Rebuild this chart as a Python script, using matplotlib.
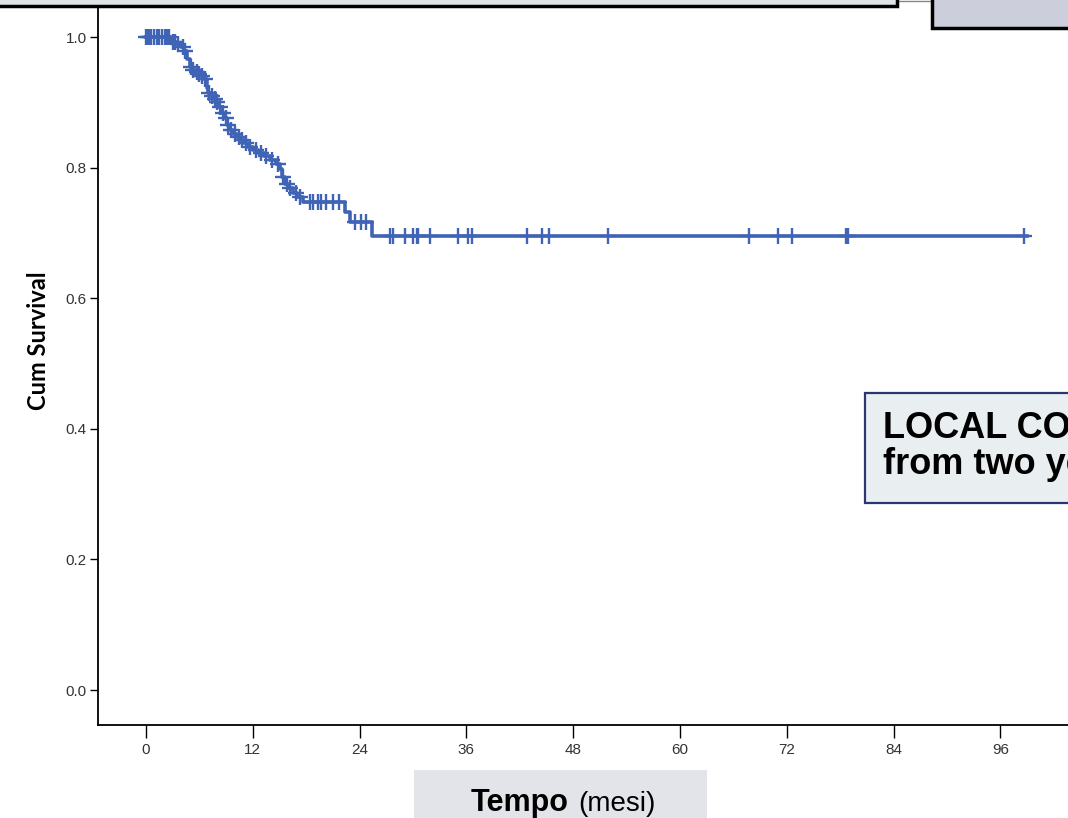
import matplotlib
matplotlib.use('Agg')
import matplotlib.pyplot as plt
import numpy as np
from matplotlib.patches import Rectangle

# Kaplan-Meier steps (months, survival after the drop)
event_times = [2.8, 3.4, 3.9, 4.3, 4.6, 4.9, 5.2, 5.5, 5.9, 6.2, 6.5, 6.8, 7.0, 7.3,
               7.6, 7.9, 8.2, 8.5, 8.8, 9.1, 9.4, 9.8, 10.2, 10.6, 11.0, 11.5, 12.0,
               12.6, 13.2, 13.9, 14.6, 15.1, 15.3, 15.6, 16.0, 16.5, 17.0, 17.6,
               22.4, 22.9, 25.4]
survival = [0.993, 0.989, 0.985, 0.978, 0.967, 0.954, 0.950, 0.946, 0.943, 0.940,
            0.935, 0.922, 0.914, 0.910, 0.905, 0.900, 0.893, 0.884, 0.876, 0.866,
            0.858, 0.852, 0.847, 0.842, 0.837, 0.831, 0.827, 0.823, 0.818, 0.812,
            0.806, 0.798, 0.785, 0.775, 0.769, 0.761, 0.755, 0.747, 0.732, 0.717,
            0.695]
last_time = 99.0

# censored observations (months)
censored = [0.0, 0.2, 0.4, 0.6, 0.9, 1.2, 1.5, 1.8, 2.1, 2.4, 2.6, 3.0, 3.2, 3.6,
            4.1, 4.4, 5.0, 5.3, 5.7, 6.0, 6.3, 6.6, 7.1, 7.4, 7.7, 8.0, 8.3, 8.6,
            9.0, 9.2, 9.6, 10.0, 10.4, 10.8, 11.2, 11.7, 12.3, 12.9, 13.5, 14.2,
            14.8, 15.4, 15.8, 16.2, 16.8, 17.3, 18.4, 18.8, 19.3, 19.7, 20.2, 21.0,
            21.7, 23.5, 24.1, 24.7, 27.4, 27.7, 29.1, 30.0, 30.4, 30.6, 31.9, 35.1,
            36.2, 36.6, 42.8, 44.5, 45.3, 51.9, 67.7, 71.0, 72.6, 78.6, 78.9, 98.6]

x_ticks = [0, 12, 24, 36, 48, 60, 72, 84, 96]
y_ticks = [0.0, 0.2, 0.4, 0.6, 0.8, 1.0]

W, H = 1068, 818
fig = plt.figure(figsize=(W / 100, H / 100), dpi=100)
ax = fig.add_axes([98 / W, 93 / H, 1 - 98 / W, 1 - 93 / H])

blue = '#3f63b5'
t = [0.0] + event_times + [last_time]
s = [1.0] + survival + [survival[-1]]
ax.step(t, s, where='post', color=blue, lw=2.6, zorder=3)

levels = np.array([1.0] + survival)
idx = np.searchsorted(event_times, censored, side='right')
ax.plot(censored, levels[idx], ls='none', marker='+', ms=11, mew=1.7, color=blue, zorder=4)

ax.set_xlim(-5.4, 103.6)
ax.set_ylim(-0.0536, 1.0567)
ax.set_xticks(x_ticks)
ax.set_yticks(y_ticks)
ax.set_yticklabels([f'{v:.1f}' for v in y_ticks])
for side in ['top', 'right']:
    ax.spines[side].set_visible(False)
for side in ['left', 'bottom']:
    ax.spines[side].set_linewidth(1.3)
ax.tick_params(axis='y', length=6, width=1, labelsize=11, labelcolor='#333333', pad=2)
ax.tick_params(axis='x', length=9, width=1, labelsize=11, labelcolor='#333333', pad=4)
for lab in ax.get_xticklabels() + ax.get_yticklabels():
    lab.set_fontfamily('Liberation Sans')

fig.text(38 / W, 1 - 341 / H, 'Cum Survival', rotation=90, ha='center', va='center',
         fontsize=17, fontweight='bold', fontfamily='Lato')


def px_rect(x0, y0, x1, y1, **kw):
    # rectangle given in pixel coordinates from the top-left corner
    r = Rectangle((x0 / W, 1 - y1 / H), (x1 - x0) / W, (y1 - y0) / H,
                  transform=fig.transFigure, **kw)
    fig.add_artist(r)


# boxes around the chart
px_rect(-10, -20, 897, 6, facecolor='#dde3e6', edgecolor='black', lw=2.5, zorder=10)
px_rect(932, -20, 1080, 28, facecolor='#cccfdb', edgecolor='black', lw=2.5, zorder=10)
fig.add_artist(plt.Line2D([897 / W, 932 / W], [1 - 1 / H, 1 - 1 / H], transform=fig.transFigure,
                          color='#888888', lw=1, zorder=9))
px_rect(865, 393, 1090, 503, facecolor='#e9eff0', edgecolor='#2b3670', lw=1.6, zorder=10)
fig.text(883 / W, 1 - 438 / H, 'LOCAL CONTROL', fontsize=26, fontweight='bold',
         fontfamily='Liberation Sans', va='baseline', ha='left', zorder=11)
fig.text(883 / W, 1 - 474 / H, 'from two years', fontsize=26, fontweight='bold',
         fontfamily='Liberation Sans', va='baseline', ha='left', zorder=11)

px_rect(414, 770, 707, 830, facecolor='#e3e4ea', edgecolor='none', zorder=10)
fig.text(569 / W, 1 - 811 / H, 'Tempo', fontsize=22, fontweight='bold',
         fontfamily='Liberation Sans', va='baseline', ha='right', zorder=11)
fig.text(578 / W, 1 - 811 / H, '(mesi)', fontsize=20,
         fontfamily='Liberation Sans', va='baseline', ha='left', zorder=11)

fig.savefig('out.png', dpi=100)
